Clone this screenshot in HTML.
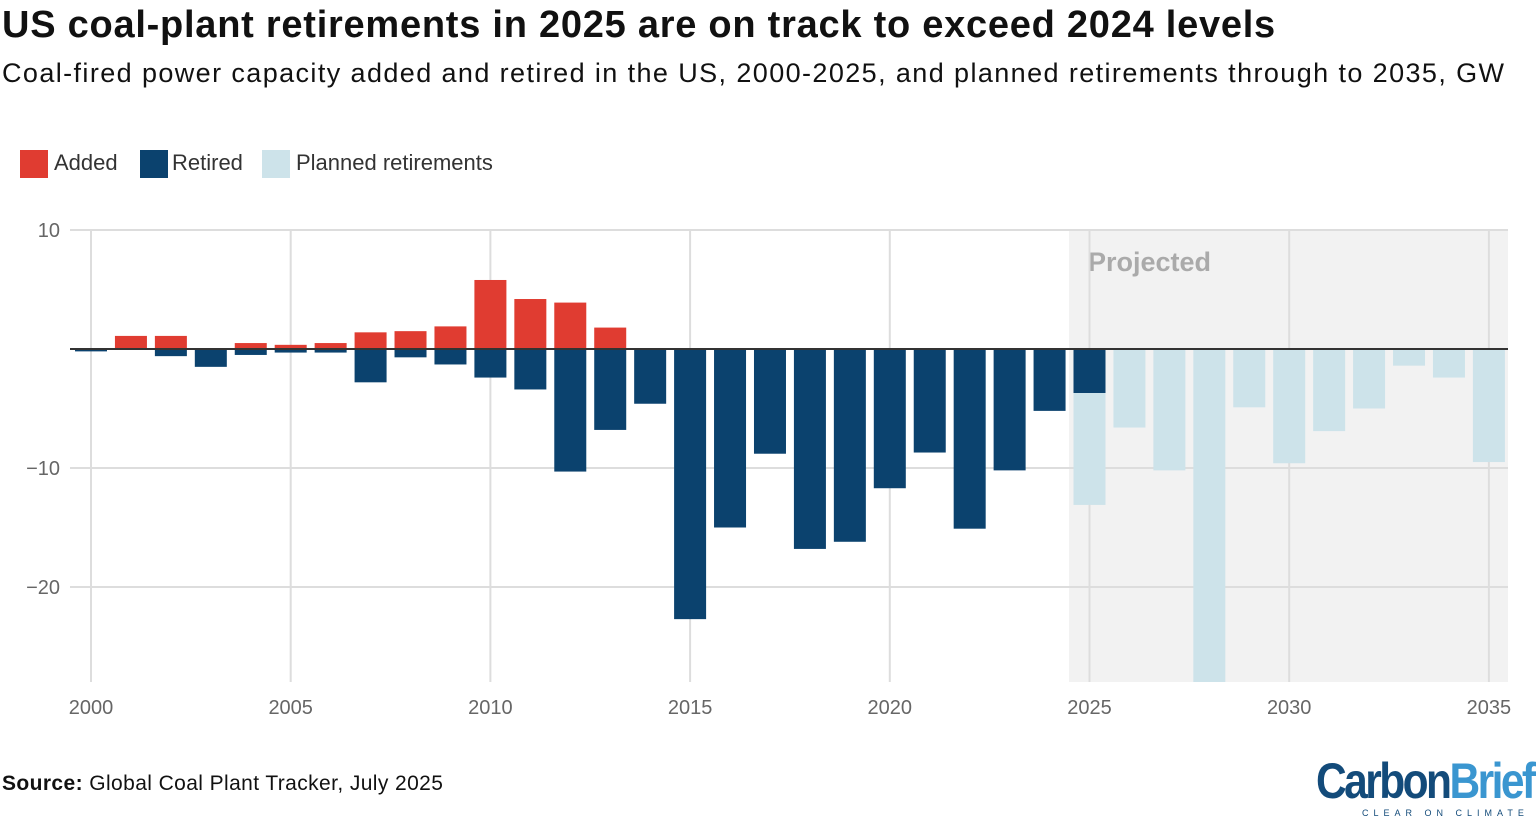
<!DOCTYPE html>
<html><head><meta charset="utf-8"><style>
body{margin:0;width:1536px;height:827px;background:#fff;font-family:"Liberation Sans",sans-serif;overflow:hidden;position:relative}
.t{position:absolute;white-space:nowrap}
</style></head><body>
<div class="t" style="left:2px;top:4px;font-size:38px;font-weight:bold;color:#111;letter-spacing:0.75px">US coal-plant retirements in 2025 are on track to exceed 2024 levels</div>
<div class="t" style="left:2px;top:58px;font-size:27px;color:#111;letter-spacing:1.4px">Coal-fired power capacity added and retired in the US, 2000-2025, and planned retirements through to 2035, GW</div>
<div style="position:absolute;left:20px;top:148px;font-size:22px;color:#333">
<span style="position:absolute;left:0;top:2px;width:28px;height:28px;background:#e03c31"></span><span class="t" style="left:34px;top:2px">Added</span>
<span style="position:absolute;left:120px;top:2px;width:28px;height:28px;background:#0b426e"></span><span class="t" style="left:152px;top:2px">Retired</span>
<span style="position:absolute;left:242px;top:2px;width:28px;height:28px;background:#cde3ea"></span><span class="t" style="left:276px;top:2px">Planned retirements</span>
</div>
<svg id="c" width="1536" height="827" style="position:absolute;left:0;top:0"></svg>
<div class="t" style="left:2px;top:772px;font-size:21px;color:#111;letter-spacing:0.4px"><b>Source:</b> Global Coal Plant Tracker, July 2025</div>
<div class="t" style="left:1316px;top:752px;font-size:50px;font-weight:bold;letter-spacing:-3px;transform:scaleX(0.85);transform-origin:left"><span style="color:#134b7a">Carbon</span><span style="color:#3a96d0">Brief</span></div>
<div class="t" style="left:1362px;top:808px;font-size:9px;letter-spacing:5px;color:#134b7a">CLEAR ON CLIMATE</div>
<script>
const years=[2000,2001,2002,2003,2004,2005,2006,2007,2008,2009,2010,2011,2012,2013,2014,2015,2016,2017,2018,2019,2020,2021,2022,2023,2024,2025];
const added=[0,1.1,1.1,0,0.5,0.35,0.5,1.4,1.5,1.9,5.8,4.2,3.9,1.8,0,0,0,0,0,0,0,0,0,0,0,0];
const retired=[-0.2,0,-0.6,-1.5,-0.5,-0.3,-0.3,-2.8,-0.7,-1.3,-2.4,-3.4,-10.3,-6.8,-4.6,-22.7,-15.0,-8.8,-16.8,-16.2,-11.7,-8.7,-15.1,-10.2,-5.2,-3.7];
const plannedYears=[2025,2026,2027,2028,2029,2030,2031,2032,2033,2034,2035];
const planned=[-9.4,-6.6,-10.2,-29,-4.9,-9.6,-6.9,-5.0,-1.4,-2.4,-9.5];
const yTicks=[10,-10,-20];
const xTicks=[2000,2005,2010,2015,2020,2025,2030,2035];
const svg=document.getElementById('c');const NS='http://www.w3.org/2000/svg';
const X=y=>91+(y-2000)*39.94, Y=v=>349-v*11.9, TOP=230,BOT=682,W=32;
function el(t,a,name){const e=document.createElementNS(NS,t);for(const k in a)e.setAttribute(k,a[k]);


svg.appendChild(e);return e;}
el('rect',{x:1069,y:TOP,width:439,height:BOT-TOP,fill:'#f2f2f2'},'projected-shading');
const pt=el('text',{x:1088,y:271,'font-size':27,'font-weight':'bold',fill:'#aaa','font-family':'Liberation Sans'},'projected-label');pt.textContent='Projected';
xTicks.forEach(t=>{el('line',{x1:X(t),x2:X(t),y1:TOP,y2:BOT,stroke:'#ddd','stroke-width':2},'x-grid');
const tx=el('text',{x:X(t),y:714,'text-anchor':'middle','font-size':20,fill:'#666','font-family':'Liberation Sans'},'x-tick-label');tx.textContent=t;});
yTicks.forEach(t=>{el('line',{x1:70,x2:1508,y1:Y(t),y2:Y(t),stroke:'#ddd','stroke-width':2},'y-grid');
const tx=el('text',{x:60,y:Y(t)+7,'text-anchor':'end','font-size':20,fill:'#666','font-family':'Liberation Sans'},'y-tick-label');tx.textContent=(t<0?'\u2212'+(-t):t);});
function bar(x,v0,v1,fill,name){let a=Math.max(Y(Math.max(v0,v1)),TOP),b=Math.min(Y(Math.min(v0,v1)),BOT);
if(b-a<=0)return;el('rect',{x:x-W/2,y:a,width:W,height:b-a,fill:fill},name);}
years.forEach((yr,i)=>{bar(X(yr),0,added[i],'#e03c31','bar-added-'+yr);bar(X(yr),0,retired[i],'#0b426e','bar-retired-'+yr);});
plannedYears.forEach((yr,i)=>{const base=yr===2025?retired[years.indexOf(2025)]:0;bar(X(yr),base,base+planned[i],'#cde3ea','bar-planned-'+yr);});
el('line',{x1:70,x2:1508,y1:Y(0),y2:Y(0),stroke:'#333','stroke-width':2},'zero-line');
</script>
</body></html>
